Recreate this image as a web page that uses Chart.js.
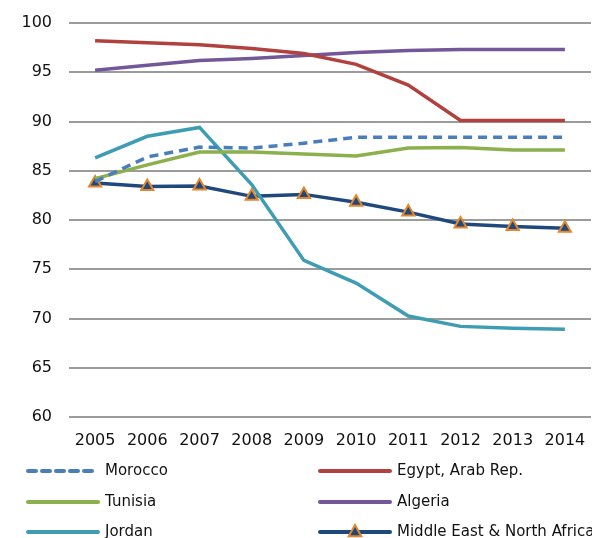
<!DOCTYPE html>
<html>
<head>
<meta charset="utf-8">
<script src="https://cdn.jsdelivr.net/npm/chart.js@4/dist/chart.umd.min.js"></script>
<style>
  html, body { margin: 0; padding: 0; background: #fff; overflow: hidden; }
  #wrap { width: 600px; height: 538px; }
</style>
</head>
<body>
<div id="wrap"><canvas id="chart" width="600" height="538"></canvas></div>
<script>
const years = ['2005', '2006', '2007', '2008', '2009', '2010', '2011', '2012', '2013', '2014'];

const morocco = [83.9, 86.4, 87.4, 87.3, 87.8, 88.4, 88.4, 88.4, 88.4, 88.4];
const egypt   = [98.2, 98.0, 97.8, 97.4, 96.9, 95.8, 93.7, 90.1, 90.1, 90.1];
const tunisia = [84.2, 85.6, 86.9, 86.9, 86.7, 86.5, 87.3, 87.35, 87.1, 87.1];
const algeria = [95.2, 95.7, 96.2, 96.4, 96.7, 97.0, 97.2, 97.3, 97.3, 97.3];
const jordan  = [86.3, 88.5, 89.4, 83.6, 75.9, 73.6, 70.25, 69.2, 69.0, 68.9];
const mena    = [83.75, 83.4, 83.45, 82.4, 82.6, 81.8, 80.8, 79.6, 79.35, 79.15];

const yTicks = [60, 65, 70, 75, 80, 85, 90, 95, 100];

const font = "'DejaVu Sans', sans-serif";

// legend in two columns under the axis
const legendPlugin = {
    id: 'twoColLegend',
    afterDraw(chart) {
        const c = chart.ctx;
        const cols = [28, 320];
        const rows = [471, 502, 532];
        chart.data.datasets.forEach((ds, i) => {
            const x = cols[i % 2];
            const y = rows[Math.floor(i / 2)];
            c.save();
            c.strokeStyle = ds.borderColor;
            c.lineWidth = 4;
            c.lineCap = 'round';
            c.setLineDash(ds.borderDash ? [8, 6] : []);
            c.beginPath();
            c.moveTo(x, y);
            c.lineTo(x + 70, y);
            c.stroke();
            c.setLineDash([]);
            if (ds.pointRadius > 0) {
                const mx = x + 35, r = 7;
                c.fillStyle = ds.pointBackgroundColor;
                c.strokeStyle = ds.pointBorderColor;
                c.lineWidth = 2;
                c.beginPath();
                c.moveTo(mx, y - r);
                c.lineTo(mx + r * 0.9, y + r * 0.6);
                c.lineTo(mx - r * 0.9, y + r * 0.6);
                c.closePath();
                c.fill();
                c.stroke();
            }
            c.fillStyle = '#111';
            c.font = '15px ' + font;
            c.textBaseline = 'middle';
            c.fillText(ds.label, x + 77, y);
            c.restore();
        });
    }
};

const ctx = document.getElementById('chart').getContext('2d');
const myChart = new Chart(ctx, {
    type: 'line',
    data: {
        labels: years,
        datasets: [
            { label: 'Morocco', data: morocco, borderColor: '#4a7ebb', borderDash: [9, 6], borderWidth: 3.5, pointRadius: 0 },
            { label: 'Egypt, Arab Rep.', data: egypt, borderColor: '#b0413e', borderWidth: 3.5, pointRadius: 0 },
            { label: 'Tunisia', data: tunisia, borderColor: '#8bb04c', borderWidth: 3.5, pointRadius: 0 },
            { label: 'Algeria', data: algeria, borderColor: '#735799', borderWidth: 3.5, pointRadius: 0 },
            { label: 'Jordan', data: jordan, borderColor: '#3e9db3', borderWidth: 3.5, pointRadius: 0 },
            { label: 'Middle East & North Africa', data: mena, borderColor: '#1f497d', borderWidth: 3.5,
              pointStyle: 'triangle', pointRadius: 7, pointBackgroundColor: '#1f497d',
              pointBorderColor: '#e3862c', pointBorderWidth: 2 }
        ]
    },
    options: {
        responsive: false,
        animation: false,
        layout: { padding: { top: 23, right: 1, left: 0, bottom: 0 } },
        scales: {
            y: {
                min: 60,
                max: 100,
                afterBuildTicks: (scale) => { scale.ticks = yTicks.map(v => ({ value: v })); },
                afterFit: (scale) => { scale.width = 69; scale.paddingTop = 0; scale.paddingBottom = 0; },
                border: { display: false },
                grid: { color: '#9b9b9b', lineWidth: 2, drawTicks: false },
                ticks: { padding: 17, color: '#111', font: { family: font, size: 16 } }
            },
            x: {
                offset: true,
                afterFit: (scale) => { scale.height = 121; scale.paddingLeft = 0; scale.paddingRight = 0; },
                border: { display: false },
                grid: { display: false, drawTicks: false, offset: true },
                ticks: { padding: 14, color: '#111', maxRotation: 0, autoSkip: false, font: { family: font, size: 16 } }
            }
        },
        plugins: {
            legend: { display: false },
            tooltip: { enabled: false }
        }
    },
    plugins: [legendPlugin]
});
</script>
</body>
</html>
